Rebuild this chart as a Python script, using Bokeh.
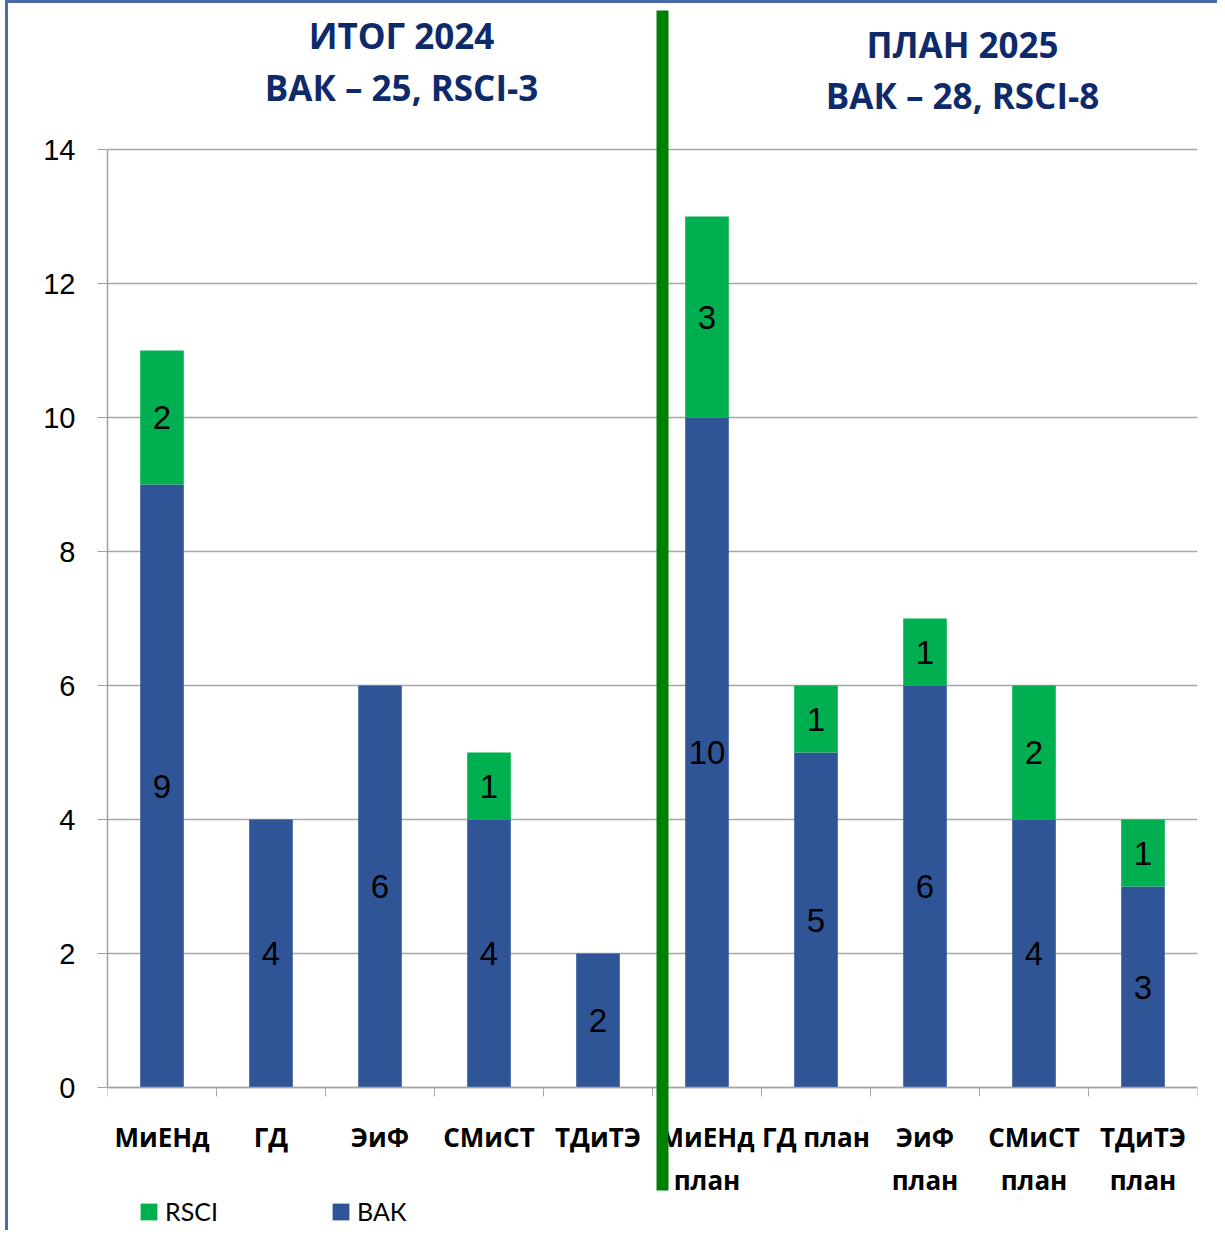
from bokeh.plotting import figure
from bokeh.models import (ColumnDataSource, Range1d, FixedTicker, LabelSet, Label,
                          BoxAnnotation, Legend, LegendItem)
from bokeh.core.properties import value
from bokeh.embed import file_html
from bokeh.resources import INLINE

# ---- data ----
categories = ["МиЕНд", "ГД", "ЭиФ", "СМиСТ", "ТДиТЭ",
              "МиЕНд план", "ГД план", "ЭиФ план", "СМиСТ план", "ТДиТЭ план"]
tick_labels = ["МиЕНд", "ГД", "ЭиФ", "СМиСТ", "ТДиТЭ",
               "МиЕНд\nплан", "ГД план", "ЭиФ\nплан", "СМиСТ\nплан", "ТДиТЭ\nплан"]
vak = [9, 4, 6, 4, 2, 10, 5, 6, 4, 3]
rsci = [2, 0, 0, 1, 0, 3, 1, 1, 2, 1]
y_ticks = [0, 2, 4, 6, 8, 10, 12, 14]
title_left = ["ИТОГ 2024", "ВАК – 25, RSCI-3"]
title_right = ["ПЛАН 2025", "ВАК – 28, RSCI-8"]

BLUE = "#2f5597"
GREEN = "#00b050"
NAVY = "#0e2a6a"
GRID = "#a6a6a6"

n = len(categories)
xc = [i + 0.5 for i in range(n)]
top_total = [v + r for v, r in zip(vak, rsci)]

src = ColumnDataSource(dict(x=xc, vak=vak, rsci=rsci, total=top_total,
                            zero=[0] * n))

# frame spans the full height so that titles, divider and legend are visible
W, H = 1217, 1230
PX_X = 109.0   # pixels per category
PX_Y = 67.0    # pixels per unit
Y0 = 1087      # pixel row of value 0
p = figure(width=W, height=H, output_backend="svg", toolbar_location=None,
           x_range=Range1d(0, n),
           y_range=Range1d(-(H - Y0) / PX_Y, Y0 / PX_Y),
           min_border_left=107, min_border_right=W - 1197, min_border_top=0,
           min_border_bottom=0)
p.border_fill_color = None
p.background_fill_color = None
p.outline_line_color = None
p.styles = {"box-shadow": "inset 5px 0 0 0 #ffffff, inset 8px 3px 0 0 #4a6aab"}

rb = p.vbar(x="x", bottom="zero", top="vak", width=0.4, source=src,
            fill_color=BLUE, line_color=None)
rg = p.vbar(x="x", bottom="vak", top="total", width=0.4, source=src,
            fill_color=GREEN, line_color=None)

# labels on segments
lab_x, lab_y, lab_t = [], [], []
for i in range(n):
    if vak[i] > 0:
        lab_x.append(xc[i]); lab_y.append(vak[i] / 2); lab_t.append(str(vak[i]))
    if rsci[i] > 0:
        lab_x.append(xc[i]); lab_y.append(vak[i] + rsci[i] / 2); lab_t.append(str(rsci[i]))
lsrc = ColumnDataSource(dict(x=lab_x, y=lab_y, t=lab_t))
p.add_layout(LabelSet(x="x", y="y", text="t", source=lsrc, text_align="center",
                      text_baseline="middle", text_font=value("Liberation Sans"),
                      text_font_size=value("33px"), text_color="black"))

# y axis
p.yaxis.ticker = FixedTicker(ticks=y_ticks)
p.yaxis.bounds = (0, 14)
p.yaxis.major_label_text_font = "Liberation Sans"
p.yaxis.major_label_text_font_size = "29px"
p.yaxis.major_label_text_color = "black"
p.yaxis.axis_line_color = "#8fa2cc"
p.yaxis.major_tick_line_color = "#8fa2cc"
p.yaxis.major_tick_out = 10
p.yaxis.major_tick_in = 0
p.yaxis.minor_tick_line_color = None
p.yaxis.major_label_standoff = 22
p.yaxis.axis_line_width = 1.5

# x axis, placed at value 0
p.xaxis.fixed_location = 0
p.xaxis.bounds = (0, n)
p.xaxis.ticker = FixedTicker(ticks=xc, minor_ticks=list(range(n + 1)))
p.xaxis.major_label_overrides = {xc[i]: tick_labels[i] for i in range(n)}
p.xaxis.major_tick_line_color = None
p.xaxis.minor_tick_line_color = GRID
p.xaxis.minor_tick_out = 9
p.xaxis.minor_tick_in = 0
p.xaxis.axis_line_color = GRID
p.xaxis.axis_line_width = 1.5
p.xaxis.major_label_text_font = "Open Sans"
p.xaxis.major_label_text_font_style = "bold"
p.xaxis.major_label_text_font_size = "26px"
p.xaxis.major_label_text_color = "black"
p.xaxis.major_label_standoff = 22

p.xgrid.grid_line_color = None
p.ygrid.ticker = FixedTicker(ticks=y_ticks)
p.ygrid.grid_line_color = GRID
p.ygrid.grid_line_width = 1.5

# titles
for txt, yy in zip(title_left, [(Y0 - 35) / PX_Y, (Y0 - 87) / PX_Y]):
    p.add_layout(Label(x=(401 - 107) / PX_X, y=yy, text=txt, text_align="center",
                       text_baseline="middle", text_font="Open Sans",
                       text_font_style="bold", text_font_size="35px",
                       text_color=NAVY))
for txt, yy in zip(title_right, [(Y0 - 44) / PX_Y, (Y0 - 95) / PX_Y]):
    p.add_layout(Label(x=(962 - 107) / PX_X, y=yy, text=txt, text_align="center",
                       text_baseline="middle", text_font="Open Sans",
                       text_font_style="bold", text_font_size="35px",
                       text_color=NAVY))

# green divider
p.add_layout(BoxAnnotation(left=(656 - 107) / PX_X, right=(668 - 107) / PX_X,
                           top=(Y0 - 10) / PX_Y, bottom=(Y0 - 1190) / PX_Y,
                           fill_color="#008000", fill_alpha=1.0,
                           line_color=None, level="overlay"))

legend = Legend(items=[LegendItem(label="RSCI", renderers=[rg]),
                       LegendItem(label="ВАК", renderers=[rb])],
                location=(31, 4), orientation="horizontal",
                glyph_width=21, glyph_height=21, label_standoff=6,
                label_width=150, spacing=15, padding=0, margin=0,
                border_line_color=None, background_fill_alpha=0,
                label_text_font="Lato", label_text_font_size="25px",
                label_text_color="black")
p.add_layout(legend)

open("out.html", "w").write(file_html(p, INLINE))
